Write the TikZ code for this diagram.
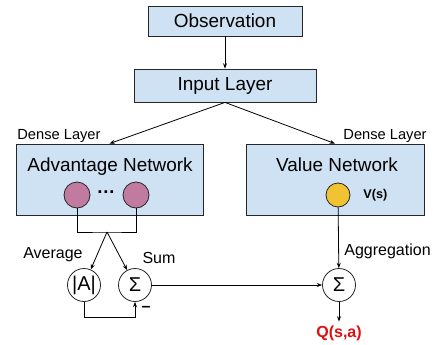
\documentclass[tikz,border=0pt]{standalone}
\usepackage{fontspec}
\setmainfont{Liberation Sans}
\usetikzlibrary{positioning,calc,arrows.meta}
\definecolor{boxblue}{HTML}{CFE2F3}
\definecolor{unitpink}{HTML}{C27BA0}
\definecolor{unityellow}{HTML}{F1C232}
\definecolor{qred}{HTML}{DD1111}

\begin{document}
\begin{tikzpicture}[x=0.75pt,y=-0.75pt,line width=0.6pt,
  layer/.style={draw=black!85,fill=boxblue,inner sep=0pt},
  unit/.style={circle,draw=black!85,inner sep=0pt,minimum size=19.5pt},
  op/.style={circle,draw=black!85,fill=white,inner sep=0pt,minimum size=24.75pt,font=\fontsize{15}{15}\selectfont},
  big/.style={font=\fontsize{14.2}{14.2}\selectfont,inner sep=0pt},
  lbl/.style={font=\fontsize{12}{12}\selectfont,inner sep=0pt},
  >={Stealth[length=4pt,width=3pt]}]
\useasboundingbox (0,0) rectangle (433,344);

\draw (225,21) node[layer,minimum width=115.5pt,minimum height=22.5pt](obs){}
      (225,85.5) node[layer,minimum width=136.5pt,minimum height=24.75pt](inp){}
      (109.5,179.5) node[layer,minimum width=140.25pt,minimum height=53.25pt](adv){}
      (335,179.5) node[layer,minimum width=133.5pt,minimum height=53.25pt](val){};
\draw (225,21) node[big](obst){Observation}
      (225,85.5) node[big](inpt){Input Layer}
      (110,167) node[big](advt){Advantage Network}
      (337,165) node[big](valt){Value Network};
\draw (17,136) node[lbl,anchor=west,font=\fontsize{11}{11}\selectfont](dl1){Dense Layer}
      (427,136) node[lbl,anchor=east,font=\fontsize{11}{11}\selectfont](dl2){Dense Layer};

\draw (77,195) node[unit,fill=unitpink](u1){}
      (106,192) node[big,font=\bfseries\fontsize{14}{14}\selectfont](dots){…}
      (136,195) node[unit,fill=unitpink](u2){}
      (338,195) node[unit,fill=unityellow,minimum size=18pt](vs){}
      (363,195) node[lbl,anchor=west,font=\bfseries\fontsize{9.5}{9.5}\selectfont](vst){V(s)};

\draw (84,285) node[op](avg){|A|}
      (135,285) node[op](sum1){Σ}
      (339,285) node[op](agg){Σ};
\coordinate (split) at (107,232);
\draw (53,255) node[lbl](avgt){Average}
      (159,258) node[lbl](sumt){Sum}
      (146,309) node[lbl,font=\bfseries\fontsize{12}{12}\selectfont](minus){–}
      (344,251) node[lbl,anchor=west](aggt){Aggregation}
      (339,333) node[lbl,font=\bfseries\fontsize{12}{12}\selectfont,text=qred,outer sep=3pt](q){Q(s,a)};

\path[->]
    (obs) edge node {} (inp)
    (inp.south) edge node {} (adv.north)
    (inp.south) edge node {} (val.north)
    (split) edge node {} (avg)
    (split) edge node {} (sum1)
    (sum1) edge node {} (agg)
    (vs) edge node {} (agg)
    (agg) edge node {} (q);
\draw (u1) |- (split) -| (u2);
\draw[->] (avg.south) -- ++(0,15) -| (sum1.south);
\end{tikzpicture}
\end{document}
